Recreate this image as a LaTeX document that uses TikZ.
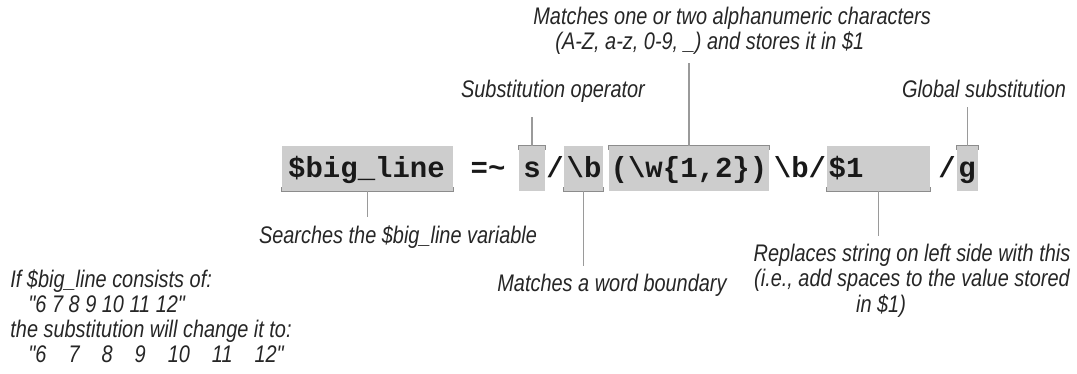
\documentclass[tikz,border=0pt]{standalone}
\usepackage{fontspec}
\usepackage{xcolor}
\usepackage{tikz}
\usetikzlibrary{positioning,calc}

\newfontfamily\notefont[FakeStretch=0.83]{Liberation Sans}
\newfontfamily\codefont{Liberation Mono}
\definecolor{boxgray}{HTML}{CDCDCD}
\definecolor{brkgray}{HTML}{8C8C8C}
\definecolor{lnkgray}{HTML}{9A9A9A}

\begin{document}
\begin{tikzpicture}[
  x=0.5pt, y=-0.5pt,
  codebox/.style={fill=boxgray, inner sep=0pt, minimum height=22.5pt, minimum width=#1},
  code/.style={font=\codefont\bfseries\fontsize{14.5pt}{16pt}\selectfont,
               text=black!90, inner sep=0pt, anchor=base},
  note/.style={font=\notefont\itshape\fontsize{12pt}{12.5pt}\selectfont,
               text=black!85, inner sep=4pt},
  brk/.style={draw=brkgray, line width=0.7pt},
  lnk/.style={draw=lnkgray, line width=0.6pt},
]
\useasboundingbox (0,0) rectangle (1077,374);

%--- gray boxes behind the parts of the expression --------------------------
\node[codebox=85.5pt] (big)  at (367.5,168.5) {};
\node[codebox=13pt]   (sop)  at (532,168.5)   {};
\node[codebox=19.5pt] (bnd)  at (583.5,168.5) {};
\node[codebox=80pt]   (grp)  at (689,168.5)   {};
\node[codebox=51.5pt] (repl) at (878.5,168.5) {};
\node[codebox=10.5pt] (glob) at (967.5,168.5) {};

% brackets on the side where the callout leaves
\foreach \bx in {big,bnd,repl}
  \draw[brk] ([yshift=2pt]\bx.south west) -- (\bx.south west)
             -- (\bx.south east) -- ([yshift=2pt]\bx.south east);
\foreach \bx in {sop,grp,glob}
  \draw[brk] ([yshift=-2pt]\bx.north west) -- (\bx.north west)
             -- (\bx.north east) -- ([yshift=-2pt]\bx.north east);

%--- the expression ----------------------------------------------------------
\node[code] (cbig)   at (366.5,177) {\$big\_line};
\node[code] (ceq)    at (488,177)   {=\textasciitilde};
\node[code] (cs)     at (532,177)   {s};
\node[code] (cdiv)   at (555,177)   {/};
\node[code] (cbnd)   at (584,177)   {\textbackslash b};
\node[code] (cgrp)   at (689,177)   {(\textbackslash w\{1,2\})};
\node[code] (cbnd2)  at (800,177)   {\textbackslash b/};
\node[code] (crepl)  at (846,177)   {\$1};
\node[code] (cdiv2)  at (947,177)   {/};
\node[code] (cg)     at (967,177)   {g};

%--- callouts above ----------------------------------------------------------
\node[note, align=left, anchor=base west] (grpnote) at (525,50)
  {Matches one or two alphanumeric characters\\
   \hspace*{11pt}(A-Z, a-z, 0-9, \_) and stores it in \$1};
\node[note, anchor=base] (sopnote)  at (553,98) {Substitution operator};
\node[note, anchor=base] (globnote) at (984,98) {Global substitution};

%--- callouts below ----------------------------------------------------------
\node[note, anchor=base] (bignote) at (398,243) {Searches the \$big\_line variable};
\node[note, anchor=base] (bndnote) at (612,292) {Matches a word boundary};
\node[note, align=center, anchor=base] (replnote) at (912,312)
  {Replaces string on left side with this\\
   (i.e., add spaces to the value stored\\
   in \$1)\hspace*{31pt}};

% example at the lower left
\node[note, align=left, anchor=base west] (example) at (2,362)
  {If \$big\_line consists of:\\
   \hspace*{9pt}"6 7 8 9 10 11 12"\\
   the substitution will change it to:\\
   \hspace*{9pt}"6\hspace{11pt}7\hspace{11pt}8\hspace{11pt}9\hspace{11pt}10\hspace{11pt}11\hspace{11pt}12"};

%--- connectors --------------------------------------------------------------
\draw[lnk] (grp.north) -- (grp.north |- grpnote.south);
\draw[lnk, shorten >=3pt] (sop.north) -- (sop.north |- sopnote.south);
\draw[lnk] (glob.north) -- (glob.north |- globnote.south);
\draw[lnk] (big.south) -- (big.south |- bignote.north);
\draw[lnk] (bnd.south) -- (bnd.south |- bndnote.north);
\draw[lnk] (repl.south) -- (repl.south |- replnote.north);

\end{tikzpicture}
\end{document}
